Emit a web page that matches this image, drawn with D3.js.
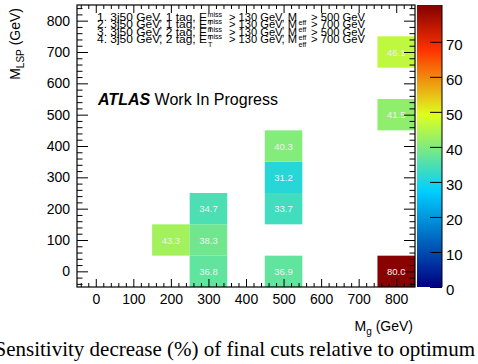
<!DOCTYPE html>
<html>
<head>
<meta charset="utf-8">
<script src="https://cdn.jsdelivr.net/npm/d3@7"></script>
<style>
  body { margin: 0; background: #fff; }
  svg { display: block; }
  text { font-family: "Liberation Sans", Arial, sans-serif; }
</style>
</head>
<body>
<svg id="chart" width="478" height="364"></svg>
<script>
// bin centres (GeV) and sensitivity decrease (%)
var mGluino = [200, 300, 300, 300, 500, 500, 500, 500, 800, 800, 800];
var mLSP    = [100, 100, 200,   0,   0, 200, 300, 400, 500, 700,   0];
var sensDec = [43.3, 38.3, 34.7, 36.8, 36.9, 33.7, 31.2, 40.3, 41.5, 46.1, 80.0];

var xTicks = [0, 100, 200, 300, 400, 500, 600, 700, 800];
var yTicks = [0, 100, 200, 300, 400, 500, 600, 700, 800];
var zTicks = [0, 10, 20, 30, 40, 50, 60, 70];

var legendLines = [
  ["1. 3j50 GeV, 1 tag, E", "> 130 GeV, M", "> 500 GeV"],
  ["2. 3j50 GeV, 1 tag, E", "> 130 GeV, M", "> 700 GeV"],
  ["3. 3j50 GeV, 2 tag, E", "> 130 GeV, M", "> 500 GeV"],
  ["4. 3j50 GeV, 2 tag, E", "> 130 GeV, M", "> 700 GeV"]
];

var svg = d3.select("#chart");
var fL = 77, fR = 415, fT = 5, fB = 287;
var binW = 100;

var x = d3.scaleLinear().domain([-50, 850]).range([fL, fR]);
var y = d3.scaleLinear().domain([-50, 850]).range([fB, fT]);
var z = d3.scaleLinear().domain([0, 80.5]).range([fB, fT]);

// ROOT "pretty" palette stops
var stops = [0.00, 0.34, 0.61, 0.84, 1.00];
var stopCols = ["rgb(0,0,130)", "rgb(0,207,255)", "rgb(222,255,31)", "rgb(255,51,0)", "rgb(130,0,0)"];
var pal = d3.scaleLinear().domain(stops.map(function(s) { return s * 80.5; }))
    .range(stopCols).interpolate(d3.interpolateRgb).clamp(true);

var cells = d3.range(sensDec.length).map(function(i) {
  return {gx: mGluino[i], ly: mLSP[i], v: sensDec[i]};
});

// cells
var cell = svg.append("g").selectAll("g")
    .data(cells)
    .enter().append("g");

cell.append("rect")
    .attr("x", function(d) { return x(d.gx - binW / 2); })
    .attr("y", function(d) { return y(d.ly + binW / 2); })
    .attr("width", function(d) { return x(d.gx + binW / 2) - x(d.gx - binW / 2); })
    .attr("height", function(d) { return y(d.ly - binW / 2) - y(d.ly + binW / 2); })
    .attr("fill", function(d) { return pal(d.v); });

cell.append("text")
    .attr("x", function(d) { return x(d.gx); })
    .attr("y", function(d) { return y(d.ly) + 3.5; })
    .attr("text-anchor", "middle")
    .attr("font-size", 9.5)
    .attr("fill", "#f0f0f0")
    .text(function(d) { return d.v.toFixed(1); });

// axes, ROOT style ticks pointing inwards
function minorVals(lo, hi, step) {
  return d3.range(lo, hi + 0.01, step).filter(function(v) { return v % 100 !== 0; });
}
var xMinor = minorVals(-40, 840, 20);
var yMinor = minorVals(-40, 840, 20);

var axes = svg.append("g");
axes.append("g").attr("transform", "translate(0," + fB + ")")
    .call(d3.axisBottom(x).tickValues(xTicks).tickSize(-8).tickPadding(7).tickFormat(d3.format("d")));
axes.append("g").attr("transform", "translate(0," + fB + ")")
    .call(d3.axisBottom(x).tickValues(xMinor).tickSize(-4).tickFormat(""));
axes.append("g").attr("transform", "translate(0," + fT + ")")
    .call(d3.axisTop(x).tickValues(xTicks).tickSize(-8).tickFormat(""));
axes.append("g").attr("transform", "translate(0," + fT + ")")
    .call(d3.axisTop(x).tickValues(xMinor).tickSize(-4).tickFormat(""));
axes.append("g").attr("transform", "translate(" + fL + ",0)")
    .call(d3.axisLeft(y).tickValues(yTicks).tickSize(-11).tickPadding(7).tickFormat(d3.format("d")));
axes.append("g").attr("transform", "translate(" + fL + ",0)")
    .call(d3.axisLeft(y).tickValues(yMinor).tickSize(-5.5).tickFormat(""));
axes.append("g").attr("transform", "translate(" + fR + ",0)")
    .call(d3.axisRight(y).tickValues(yTicks).tickSize(-11).tickFormat(""));
axes.append("g").attr("transform", "translate(" + fR + ",0)")
    .call(d3.axisRight(y).tickValues(yMinor).tickSize(-5.5).tickFormat(""));

axes.selectAll(".domain").remove();
axes.selectAll("line").attr("stroke", "#000");
axes.selectAll("text").attr("font-size", 14).attr("fill", "#000")
    .style("font-family", "Liberation Sans, Arial, sans-serif");

svg.append("rect")
    .attr("x", fL).attr("y", fT)
    .attr("width", fR - fL).attr("height", fB - fT)
    .attr("fill", "none").attr("stroke", "#000").attr("stroke-width", 1.2);

// colour bar
var cbX = 417, cbW = 25;
var grad = svg.append("defs").append("linearGradient")
    .attr("id", "pal").attr("x1", 0).attr("y1", 1).attr("x2", 0).attr("y2", 0);
grad.selectAll("stop").data(stops).enter().append("stop")
    .attr("offset", function(d) { return d; })
    .attr("stop-color", function(d, i) { return stopCols[i]; });

svg.append("rect")
    .attr("x", cbX).attr("y", fT)
    .attr("width", cbW).attr("height", fB - fT)
    .attr("fill", "url(#pal)");

var zAxis = svg.append("g").attr("transform", "translate(" + (cbX + cbW) + ",0)")
    .call(d3.axisRight(z).tickValues(zTicks).tickSize(-12).tickPadding(4).tickFormat(d3.format("d")));
zAxis.select(".domain").attr("d", "M0," + fT + "V" + fB).attr("stroke", "#000");
zAxis.selectAll("line").attr("stroke", "#000");
zAxis.selectAll("text").attr("font-size", 15).attr("fill", "#000")
    .attr("dy", "0.5em")
    .style("font-family", "Liberation Sans, Arial, sans-serif");

// axis titles
var xt = svg.append("text").attr("x", 413).attr("y", 331)
    .attr("text-anchor", "end").attr("font-size", 14);
xt.append("tspan").text("M");
xt.append("tspan").attr("dy", 4).attr("font-size", 10).text("g");
xt.append("tspan").attr("dy", -4).text(" (GeV)");

var yt = svg.append("text").attr("transform", "translate(20,8) rotate(-90)")
    .attr("text-anchor", "end").attr("font-size", 14);
yt.append("tspan").text("M");
yt.append("tspan").attr("dy", 4).attr("font-size", 10).text("LSP");
yt.append("tspan").attr("dy", -4).text(" (GeV)");

// ATLAS label
var atl = svg.append("text").attr("x", 98).attr("y", 105).attr("font-size", 16);
atl.append("tspan").attr("font-weight", "bold").attr("font-style", "italic").text("ATLAS");
atl.append("tspan").text(" Work In Progress");

// legend lines with E_T^miss and M_eff (TLatex-like layout)
var fs = 10.5;
legendLines.forEach(function(parts, i) {
  var base = 20.7 + i * 7.5;
  var g = svg.append("g");
  function put(str, px, dy, size, len) {
    var t = g.append("text").attr("x", px).attr("y", base + dy)
        .attr("font-size", size).text(str);
    if (len) t.attr("textLength", len).attr("lengthAdjust", "spacingAndGlyphs");
  }
  put(parts[0], 97, 0, fs, 110);
  put("miss", 207.5, -4, fs * 0.68);
  put("T", 208, 4, fs * 0.68);
  put(parts[1], 229, 0, fs, 68);
  put("eff", 298.5, 4, fs * 0.68);
  put(parts[2], 311, 0, fs, 54);
});

// caption
svg.append("text").attr("x", 475).attr("y", 356)
    .attr("text-anchor", "end").attr("font-size", 21)
    .style("font-family", "Liberation Serif, Times New Roman, serif")
    .text("Sensitivity decrease (%) of final cuts relative to optimum");
</script>
</body>
</html>
